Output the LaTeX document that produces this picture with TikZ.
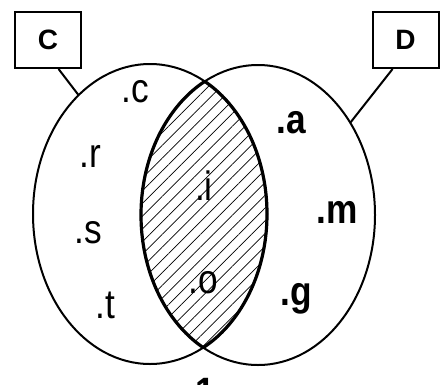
\documentclass[tikz,border=0pt]{standalone}
\usepackage{fontspec}
\setmainfont{Liberation Sans}
\newfontfamily\labfont{Liberation Sans}[FakeStretch=0.86]
\usetikzlibrary{shapes.geometric,patterns.meta}

\begin{document}
\begin{tikzpicture}[x=1pt,y=1pt]
\tikzset{
 setc/.style={draw,ellipse,line width=2pt,inner sep=0pt,outer sep=0pt,minimum width=234pt,minimum height=300pt},
 tag/.style={draw,line width=2pt,minimum width=66pt,minimum height=56pt,font=\fontsize{28}{30}\selectfont\bfseries},
 lab/.style={anchor=base,inner sep=0pt,font=\labfont\fontsize{41}{44}\selectfont},
 blab/.style={lab,font=\labfont\fontsize{41}{44}\selectfont\bfseries},
 lens/.style={line width=3.2pt}
}
\useasboundingbox (0,0) rectangle (441,384);
\node[setc] (setC) at (150,170) {};
\node[setc] (setD) at (258,169) {};
% shaded intersection
\begin{scope}
 \clip (150,170) ellipse [x radius=117,y radius=150];
 \fill[pattern={Lines[angle=45,distance=9pt,line width=0.7pt]}] (258,169) ellipse [x radius=117,y radius=150];
 \draw[lens] (258,169) ellipse [x radius=117,y radius=150];
\end{scope}
\begin{scope}
 \clip (258,169) ellipse [x radius=117,y radius=150];
 \draw[lens] (150,170) ellipse [x radius=117,y radius=150];
\end{scope}
\node[tag] (boxC) at (48,344) {C};
\node[tag] (boxD) at (405.5,344) {D};
\draw[line width=2pt] (boxC.-70) -- (setC.121);
\draw[line width=2pt] (boxD.-114) -- (setD.45);
\foreach \t/\x/\y in {c/135/282,r/90/217,s/88/141,t/105/66,i/204/184,o/203/91}
 \node[lab] (l\t) at (\x,\y) {.\t};
\foreach \t/\x/\y in {a/291/251,m/337/161,g/296/79}
 \node[blab] (l\t) at (\x,\y) {.\t};
\node[blab] (num) at (205,-22) {1};
\end{tikzpicture}
\end{document}
